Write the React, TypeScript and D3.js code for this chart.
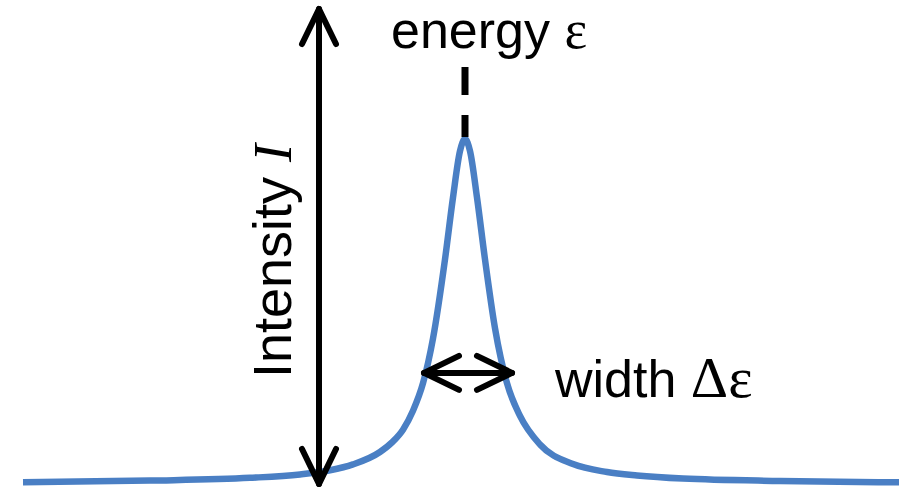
import React from 'react';
import * as d3 from 'd3';

// energy offset from peak centre (arb. units) and normalised intensity
const energy = [
  -44.2, -31.5, -21.5, -16.5, -13.5, -11.2, -8.5, -7.3, -6.2, -5.2, -4.2, -3.2, -2.0, -1.2, -0.5, 0,
  0.5, 1.2, 2.0, 3.0, 4.2, 5.5, 7.5, 10.8, 14.2, 17.2, 21.8, 31.5, 43.4,
];
const intensity = [
  0.002, 0.007, 0.015, 0.025, 0.037, 0.054, 0.09, 0.118, 0.155, 0.21, 0.29, 0.42, 0.65, 0.83, 0.965, 1,
  0.965, 0.83, 0.65, 0.45, 0.29, 0.195, 0.112, 0.055, 0.032, 0.022, 0.013, 0.006, 0.002,
];
const peakEnergy = 0;
const halfWidth = [-4.1, 4.7]; // ends of the width arrow
const arrowLevel = 0.32;

const W = 899;
const H = 487;

const App = () => {
  const x = d3.scaleLinear().domain([-46.5, 43.4]).range([0, W]);
  const y = d3.scaleLinear().domain([0, 1]).range([483, 139]);

  const pts = energy.map((e, i) => [e, intensity[i]] as [number, number]);
  const line = d3.line<[number, number]>()
    .x(d => x(d[0]))
    .y(d => y(d[1]))
    .curve(d3.curveMonotoneX);

  const ax = 319; // intensity arrow
  const top = 9, bottom = 484;
  const px = x(peakEnergy);
  const hy = y(arrowLevel);
  const hl = x(halfWidth[0]), hr = x(halfWidth[1]);
  const head = 35, wing = 17;

  const font = 'Arial, "Liberation Sans", Helvetica, sans-serif';
  const serif = '"Liberation Serif", "Times New Roman", serif';

  return (
    <svg width={W} height={H} style={{ position: 'absolute', left: 0, top: 0, background: '#fff' }}>
      <path d={line(pts) || ''} fill="none" stroke="#4a7fc4" strokeWidth={6.5} />

      <g stroke="#000" strokeWidth={6} fill="none" strokeLinecap="round" strokeLinejoin="round">
        <line x1={ax} y1={top} x2={ax} y2={bottom} />
        <polyline points={`${ax - wing},${top + head} ${ax},${top} ${ax + wing},${top + head}`} />
        <polyline points={`${ax - wing},${bottom - head} ${ax},${bottom} ${ax + wing},${bottom - head}`} />

        <line x1={hl} y1={hy} x2={hr} y2={hy} />
        <polyline points={`${hl + head},${hy - wing} ${hl},${hy} ${hl + head},${hy + wing}`} />
        <polyline points={`${hr - head},${hy - wing} ${hr},${hy} ${hr - head},${hy + wing}`} />
      </g>

      <line x1={px} y1={67} x2={px} y2={y(1) - 2} stroke="#000" strokeWidth={7} strokeDasharray="28,20" />

      <text x={391} y={48} fontFamily={font} fontSize={52} fill="#000">
        energy <tspan fontFamily={serif} fontSize={54}>ε</tspan>
      </text>
      <text x={555} y={397} fontFamily={font} fontSize={52} fill="#000">
        width <tspan fontFamily={serif} fontSize={58}>Δε</tspan>
      </text>
      <text transform={`translate(291,378) rotate(-90)`} fontFamily={font} fontSize={54} fill="#000">
        Intensity <tspan fontFamily={serif} fontStyle="italic">I</tspan>
      </text>
    </svg>
  );
};

export default App;
